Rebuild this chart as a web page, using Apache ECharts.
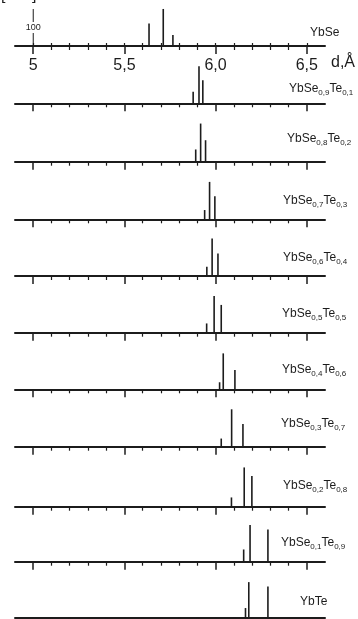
<!DOCTYPE html>
<html><head><meta charset="utf-8">
<script src="https://cdn.jsdelivr.net/npm/echarts@6/dist/echarts.min.js"></script>
<style>html,body{margin:0;padding:0;background:#fff}#c{width:358px;height:619px}</style>
</head><body><div id="c"></div>
<script>
// ---- data (d in Å, relative intensity I) ----
const dYbSe   = [5.635, 5.713, 5.766];  const iYbSe   = [61, 100, 30];
const dSe09   = [5.877, 5.909, 5.930];  const iSe09   = [31, 100, 62];
const dSe08   = [5.891, 5.918, 5.945];  const iSe08   = [33, 103, 58];
const dSe07   = [5.940, 5.967, 5.996];  const iSe07   = [25, 101, 62];
const dSe06   = [5.952, 5.981, 6.013];  const iSe06   = [25, 101, 61];
const dSe05   = [5.951, 5.992, 6.031];  const iSe05   = [25, 99, 75];
const dSe04   = [6.022, 6.042, 6.106];  const iSe04   = [19, 97, 52];
const dSe03   = [6.031, 6.088, 6.150];  const iSe03   = [22, 101, 61];
const dSe02   = [6.087, 6.157, 6.199];  const iSe02   = [25, 106, 83];
const dSe01   = [6.154, 6.189, 6.287];  const iSe01   = [33, 99, 87];
const dYbTe   = [6.164, 6.182, 6.287];  const iYbTe   = [25, 95, 83];

const seFrac = [null, '0,9', '0,8', '0,7', '0,6', '0,5', '0,4', '0,3', '0,2', '0,1', null];
const teFrac = [null, '0,1', '0,2', '0,3', '0,4', '0,5', '0,6', '0,7', '0,8', '0,9', null];

const majorTicks = [5, 5.5, 6, 6.5];
const majorTickLabels = ['5', '5,5', '6,0', '6,5'];
const minorTicks = [5.1, 5.2, 5.3, 5.4, 5.6, 5.7, 5.8, 5.9, 6.1, 6.2, 6.3, 6.4];
const allTicks = [5.0, 5.1, 5.2, 5.3, 5.4, 5.5, 5.6, 5.7, 5.8, 5.9, 6.0, 6.1, 6.2, 6.3, 6.4, 6.5];
const scaleBarD = 5, scaleBarI = 100;

// ---- layout ----
const dMin = 4.9, dMax = 6.6;
const axisY = [46, 103.3, 161.7, 219.3, 276, 332.7, 389.3, 446.7, 506.7, 561.7, 617.3];
const labelPos = [[310,27],[289,83],[287,133],[283,195],[283,252],[282,308],[282,364],[281,418],[283,480],[281,537],[300,596]];
const panelsD = [dYbSe, dSe09, dSe08, dSe07, dSe06, dSe05, dSe04, dSe03, dSe02, dSe01, dYbTe];
const panelsI = [iYbSe, iSe09, iSe08, iSe07, iSe06, iSe05, iSe04, iSe03, iSe02, iSe01, iYbTe];

const ink = '#1c1c1c';
const gridH = 40, yMax = 108;
const grid = [], xAxis = [], yAxis = [], series = [], graphic = [];

panelsD.forEach((d, i) => {
  grid.push({left: 15, right: 33, top: axisY[i] - gridH, height: gridH});
  xAxis.push({
    type: 'value', gridIndex: i, min: dMin, max: dMax, position: 'bottom', offset: 0,
    axisLine: {onZero: false, lineStyle: {color: ink, width: 2}},
    axisTick: {customValues: majorTicks, length: 8, lineStyle: {color: ink, width: 1.5}},
    axisLabel: i === 0 ? {
      customValues: majorTicks, margin: 12, fontSize: 16, color: ink, fontFamily: 'Liberation Sans',
      formatter: v => { const k = majorTicks.findIndex(m => Math.abs(m - v) < 1e-6); return k >= 0 ? majorTickLabels[k] : ''; }
    } : {show: false},
    splitLine: {show: false}
  });
  xAxis.push({
    type: 'value', gridIndex: i, min: dMin, max: dMax, position: 'bottom', offset: 0,
    axisLine: {show: false},
    axisTick: {customValues: minorTicks, length: 4, lineStyle: {color: ink, width: 1.2}},
    axisLabel: {show: false}, splitLine: {show: false}
  });
  yAxis.push({type: 'value', gridIndex: i, min: 0, max: yMax, show: false});
  series.push({
    type: 'bar', xAxisIndex: 2 * i, yAxisIndex: i, barWidth: 1.6,
    data: d.map((x, k) => [x, panelsI[i][k]]),
    itemStyle: {color: ink}, silent: true
  });
  let text;
  if (seFrac[i]) text = '{m|YbSe}{s|' + seFrac[i] + '}{m|Te}{s|' + teFrac[i] + '}';
  else text = '{m|' + (i === 0 ? 'YbSe' : 'YbTe') + '}';
  graphic.push({
    type: 'text', left: labelPos[i][0], top: labelPos[i][1],
    style: {
      text: text, fill: ink,
      rich: {
        m: {fontSize: 12, fontFamily: 'Liberation Sans', fill: ink, lineHeight: 16, verticalAlign: 'middle'},
        s: {fontSize: 8, fontFamily: 'Liberation Sans', fill: ink, lineHeight: 16, verticalAlign: 'bottom'}
      }
    }
  });
});

// top panel: ticks also cross above the axis line
xAxis.push({
  type: 'value', gridIndex: 0, min: dMin, max: dMax, position: 'bottom', offset: 0,
  axisLine: {show: false},
  axisTick: {customValues: allTicks, inside: true, length: 3, lineStyle: {color: ink, width: 1.2}},
  axisLabel: {show: false}, splitLine: {show: false}
});

// intensity scale bar (100) in the top panel
series.push({
  type: 'bar', xAxisIndex: 1, yAxisIndex: 0, barWidth: 1,
  data: [[scaleBarD, scaleBarI]], itemStyle: {color: ink}, silent: true,
  label: {show: true, position: 'inside', formatter: String(scaleBarI), fontSize: 9, color: ink,
          backgroundColor: '#fff', padding: [1, 0], fontFamily: 'Liberation Sans'}
});

graphic.push({type: 'text', left: 331, top: 55, style: {text: 'd,Å', fontSize: 16, fontFamily: 'Liberation Sans', fill: ink}});
graphic.push({type: 'text', left: 1, top: -12, style: {text: '[      ]', fontSize: 16, fontFamily: 'Liberation Sans', fill: ink}});

const chart = echarts.init(document.getElementById('c'), null, {renderer: 'canvas'});
chart.setOption({animation: false, backgroundColor: '#fff', grid, xAxis, yAxis, series, graphic});
</script></body></html>
